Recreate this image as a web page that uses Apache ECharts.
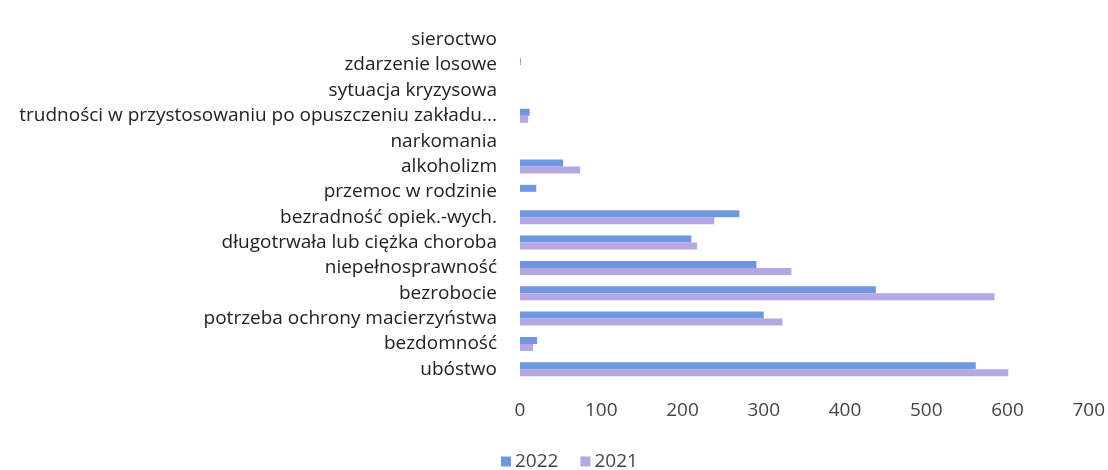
<!DOCTYPE html>
<html>
<head>
<meta charset="utf-8">
<script src="https://cdn.jsdelivr.net/npm/echarts@6/dist/echarts.min.js"></script>
<style>
html, body { margin: 0; padding: 0; background: #fff; }
#container { width: 1108px; height: 470px; }
</style>
</head>
<body>
<div id="container"></div>
<script>
var categories = ['ubóstwo', 'bezdomność', 'potrzeba ochrony macierzyństwa', 'bezrobocie',
    'niepełnosprawność', 'długotrwała lub ciężka choroba', 'bezradność opiek.-wych.',
    'przemoc w rodzinie', 'alkoholizm', 'narkomania',
    'trudności w przystosowaniu po opuszczeniu zakładu...', 'sytuacja kryzysowa',
    'zdarzenie losowe', 'sieroctwo'];
var values2022 = [561, 21, 300, 438, 291, 211, 270, 20, 53, 0, 12, 0, 1, 0];
var values2021 = [601, 16, 323, 584, 334, 218, 239, 0, 74, 0, 10, 0, 0, 0];
var xTicks = [0, 100, 200, 300, 400, 500, 600, 700];

var dom = document.getElementById("container");
var myChart = echarts.init(dom);
var font = 'Open Sans';

var option = {
    animation: false,
    textStyle: { fontFamily: font },
    legend: {
        data: ['2022', '2021'],
        top: 447,
        left: 496,
        itemWidth: 10,
        itemHeight: 10,
        itemGap: 22,
        icon: 'rect',
        textStyle: { fontSize: 19, color: '#444', fontFamily: font, padding: [0, 0, 0, -1] }
    },
    grid: { left: 520, right: 15, top: 27, bottom: 88, containLabel: false },
    xAxis: {
        type: 'value',
        min: xTicks[0],
        max: xTicks[xTicks.length - 1],
        interval: 100,
        axisLine: { show: false },
        axisTick: { show: false },
        splitLine: { show: false },
        axisLabel: { fontSize: 19, color: '#444', margin: 19, fontFamily: font }
    },
    yAxis: {
        type: 'category',
        data: categories,
        axisLine: { show: false },
        axisTick: { show: false },
        axisLabel: { fontSize: 19, color: '#222', margin: 23, fontFamily: font }
    },
    series: [
        {
            name: '2022',
            type: 'bar',
            data: values2022,
            barWidth: 7,
            barGap: '0%',
            itemStyle: { color: '#6f97e1' }
        },
        {
            name: '2021',
            type: 'bar',
            data: values2021,
            barWidth: 7,
            barGap: '0%',
            itemStyle: { color: '#b5a7e3' }
        }
    ]
};

if (option && typeof option === "object") {
    myChart.setOption(option, true);
}
</script>
</body>
</html>
